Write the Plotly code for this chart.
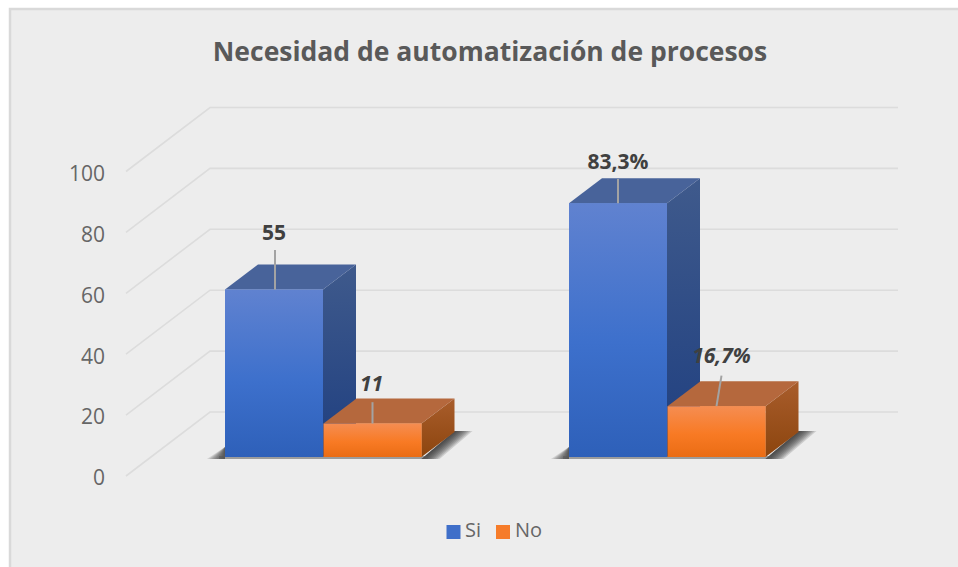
import plotly.graph_objects as go

# ---- data ----
SERIES = ["Si", "No"]
SI_VALUES = [55, 83.3]
NO_VALUES = [11, 16.7]
SI_LABELS = ["55", "83,3%"]
NO_LABELS = ["11", "16,7%"]
TICKS = [0, 20, 40, 60, 80, 100]
TITLE = "Necesidad de automatización de procesos"

# ---- geometry ----
W, H = 958, 567
PX_PER_UNIT = 3.045
Y0_PX = 476
BAR_PLANE = (476 - 457) / PX_PER_UNIT
BACK_PLANE = (476 - 412) / PX_PER_UNIT
BAR_W = 98
SI_X = [274, 618]
NO_X = [372.5, 716.5]
DX, DY = 33, 25 / PX_PER_UNIT
WALL_X = (126, 210, 898)
LEGEND_X = [453.5, 503]
LEGEND_TEXT_X = [465, 515]
LEGEND_PX_Y = 532
FONT = "Open Sans"


def yv(px):
    return (Y0_PX - px) / PX_PER_UNIT


fig = go.Figure()

# real bars (front faces)
fig.add_bar(x=SI_X, y=SI_VALUES, base=BAR_PLANE, width=BAR_W, name=SERIES[0],
            marker=dict(color="#3f6fc9", line_width=0), hoverinfo="skip", showlegend=False)
fig.add_bar(x=NO_X, y=NO_VALUES, base=BAR_PLANE, width=BAR_W, name=SERIES[1],
            marker=dict(color="#f67c2a", line_width=0), hoverinfo="skip", showlegend=False)


def poly(xs, ys, color=None, grad=None):
    t = dict(x=list(xs) + [xs[0]], y=list(ys) + [ys[0]], mode="lines", fill="toself",
             line=dict(width=0), showlegend=False, hoverinfo="skip")
    if grad:
        t["fillgradient"] = dict(type="vertical", colorscale=grad)
        t["fillcolor"] = grad[0][1]
    else:
        t["fillcolor"] = color
    fig.add_trace(go.Scatter(**t))


# gridlines on the walls
for v in TICKS:
    fig.add_trace(go.Scatter(
        x=list(WALL_X), y=[v, v + BACK_PLANE, v + BACK_PLANE], mode="lines",
        line=dict(color="#dcdcdc", width=1.6), showlegend=False, hoverinfo="skip"))

# floor shadows (stacked thin layers fade outwards)
for sx, nx in zip(SI_X, NO_X):
    left = sx - BAR_W / 2
    right = nx + BAR_W / 2
    for k in (18, 16, 14, 12, 10, 8, 6, 4, 2):
        poly([left, left, left - k], [yv(459), yv(447), yv(459)], color="rgba(40,40,40,0.14)")
        poly([right, right + DX, right + DX + k, right + k],
             [yv(459), yv(431), yv(431), yv(459)], color="rgba(40,40,40,0.16)")
    poly([left - 6, right + 6, right + 6, left - 6], [yv(456), yv(456), yv(459), yv(459)],
         color="rgba(90,90,90,0.55)")

# fillgradient colourscales run bottom (0) to top (1)
BLUE = dict(front=[[0, "#2e60b9"], [0.45, "#3d70cc"], [1, "#6082d0"]],
            side=[[0, "#1f3f80"], [1, "#3f5a8c"]], top="#48639a")
ORANGE = dict(front=[[0, "#ea6c14"], [0.45, "#f87a24"], [1, "#f58d52"]],
              side=[[0, "#8c450e"], [1, "#a95d2c"]], top="#b5683d")


def box(cx, value, pal):
    l, r = cx - BAR_W / 2, cx + BAR_W / 2
    b, t = BAR_PLANE, BAR_PLANE + value
    poly([r, r + DX, r + DX, r], [t, t + DY, b + DY, b], grad=pal["side"])
    poly([l, l + DX, r + DX, r], [t, t + DY, t + DY, t], color=pal["top"])
    poly([l, r, r, l], [t, t, b, b], grad=pal["front"])


for i in range(2):
    box(SI_X[i], SI_VALUES[i], BLUE)
    box(NO_X[i], NO_VALUES[i], ORANGE)

# leader lines and data labels
LEADER = "#a3a3a3"
leaders = [(SI_X[0] + 1, SI_VALUES[0], SI_X[0] + 1, 13),
           (NO_X[0], NO_VALUES[0], NO_X[0], 7),
           (SI_X[1], SI_VALUES[1], SI_X[1], 8),
           (NO_X[1], NO_VALUES[1], NO_X[1] + 5, 10)]
for x0, v, x1, up in leaders:
    t = BAR_PLANE + v
    fig.add_trace(go.Scatter(x=[x0, x1], y=[t, t + up], mode="lines",
                             line=dict(color=LEADER, width=2), showlegend=False, hoverinfo="skip"))

label_font = dict(family=FONT, size=21, color="#404040", weight="bold")
fig.add_trace(go.Scatter(
    x=[SI_X[0], SI_X[1]], y=[BAR_PLANE + SI_VALUES[0] + 18, BAR_PLANE + SI_VALUES[1] + 13],
    mode="text", text=SI_LABELS, textposition="middle center", textfont=label_font,
    showlegend=False, hoverinfo="skip"))
fig.add_trace(go.Scatter(
    x=[NO_X[0] - 1, NO_X[1] + 5], y=[BAR_PLANE + NO_VALUES[0] + 12.5, BAR_PLANE + NO_VALUES[1] + 16],
    mode="text", text=NO_LABELS, textposition="middle center",
    textfont=dict(label_font, style="italic"), showlegend=False, hoverinfo="skip"))

# legend row drawn as square markers with their series names
fig.add_trace(go.Scatter(
    x=LEGEND_X, y=[yv(LEGEND_PX_Y)] * 2, mode="markers",
    marker=dict(symbol="square", size=14, color=["#3f6fc9", "#f67c2a"], line_width=0),
    showlegend=False, hoverinfo="skip"))
fig.add_trace(go.Scatter(
    x=LEGEND_TEXT_X, y=[yv(LEGEND_PX_Y)] * 2, mode="text", text=SERIES,
    textposition="middle right", textfont=dict(family=FONT, size=20, color="#666666"),
    showlegend=False, hoverinfo="skip"))

fig.update_layout(
    width=W, height=H, autosize=False,
    margin=dict(l=0, r=0, t=0, b=0),
    paper_bgcolor="#ffffff", plot_bgcolor="rgba(0,0,0,0)",
    barmode="overlay",
    font=dict(family=FONT, color="#666666"),
    title=dict(text=TITLE, x=490 / W, xanchor="center", y=1 - 52 / H, yanchor="middle",
               font=dict(family=FONT, size=26.5, color="#595959", weight=700)),
    xaxis=dict(range=[0, W], visible=False, fixedrange=True),
    yaxis=dict(range=[yv(H), yv(0)], tickvals=TICKS, showgrid=False, zeroline=False, showline=False,
               anchor="free", position=105 / W, ticks="", ticklabelshift=2,
               tickfont=dict(family=FONT, size=21, color="#666666"), fixedrange=True),
    shapes=[dict(type="rect", xref="paper", yref="paper", layer="below",
                 x0=10 / W, x1=1.01, y0=-0.01, y1=1 - 9 / H,
                 fillcolor="#ededed", line=dict(color="#d9d9d9", width=2.5))],
    showlegend=False,
)

fig.write_html("out.html", config=dict(displayModeBar=False),
               post_script="document.body.style.margin='0';document.body.style.overflow='hidden';")
